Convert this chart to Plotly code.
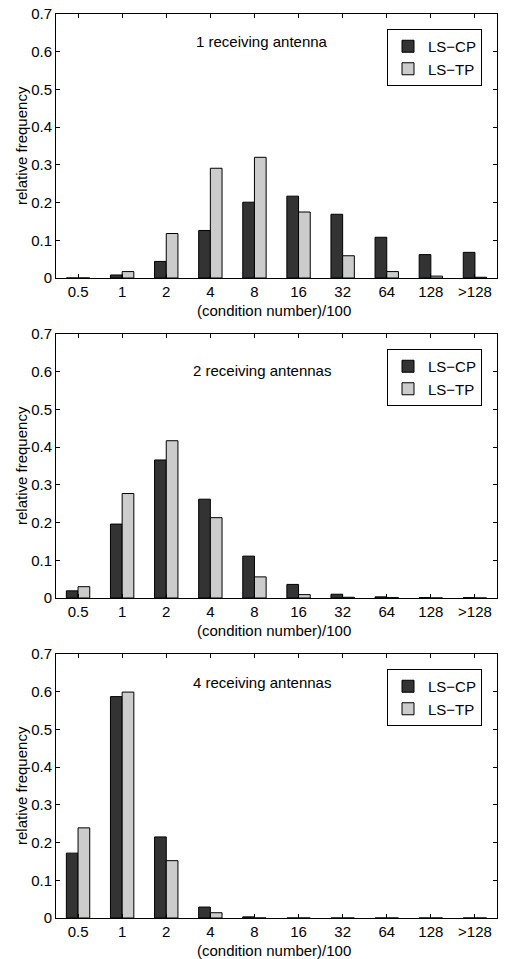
import plotly.graph_objects as go

categories = ["0.5", "1", "2", "4", "8", "16", "32", "64", "128", ">128"]

ant1_cp = [0.000, 0.008, 0.044, 0.126, 0.201, 0.217, 0.169, 0.108, 0.062, 0.068]
ant1_tp = [0.000, 0.017, 0.118, 0.291, 0.320, 0.175, 0.059, 0.017, 0.005, 0.002]

ant2_cp = [0.019, 0.196, 0.366, 0.262, 0.111, 0.036, 0.010, 0.003, 0.001, 0.001]
ant2_tp = [0.030, 0.277, 0.417, 0.213, 0.056, 0.009, 0.002, 0.001, 0.000, 0.000]

ant4_cp = [0.172, 0.587, 0.215, 0.029, 0.003, 0.000, 0.000, 0.000, 0.000, 0.000]
ant4_tp = [0.239, 0.599, 0.152, 0.014, 0.000, 0.000, 0.000, 0.000, 0.000, 0.000]

panel_titles = ["1 receiving antenna", "2 receiving antennas", "4 receiving antennas"]
series_names = ["LS\u2212CP", "LS\u2212TP"]
y_ticks = [0, 0.1, 0.2, 0.3, 0.4, 0.5, 0.6, 0.7]
y_ticktext = ["0", "0.1", "0.2", "0.3", "0.4", "0.5", "0.6", "0.7"]

W, H = 505, 959
FONT = "Liberation Sans, Arial, Helvetica, sans-serif"
FS = 15
DARK = "#333333"
LIGHT = "#cccccc"

# panel pixel boxes (top, bottom)
panels_px = [(14, 278), (334, 598), (654, 918)]
x_left, x_right = 56, 497

fig = go.Figure()
data = [(ant1_cp, ant1_tp), (ant2_cp, ant2_tp), (ant4_cp, ant4_tp)]

layout = dict(
    template="none",
    width=W, height=H,
    margin=dict(l=0, r=0, t=0, b=0, autoexpand=False),
    paper_bgcolor="white", plot_bgcolor="white",
    font=dict(family=FONT, size=FS, color="black"),
    barmode="group", bargap=0.47, bargroupgap=0.0,
    annotations=[],
)

for i, ((cp, tp), (top, bot)) in enumerate(zip(data, panels_px)):
    n = "" if i == 0 else str(i + 1)
    xa, ya = "x" + n, "y" + n
    leg = "legend" + n
    fig.add_trace(go.Bar(x=categories, y=cp, name=series_names[0], xaxis=xa, yaxis=ya,
                         marker=dict(color=DARK, line=dict(color="black", width=1)),
                         legend=leg))
    fig.add_trace(go.Bar(x=categories, y=tp, name=series_names[1], xaxis=xa, yaxis=ya,
                         marker=dict(color=LIGHT, line=dict(color="black", width=1)),
                         legend=leg))
    dom_y = [1 - bot / H, 1 - top / H]
    layout["xaxis" + n] = dict(
        domain=[x_left / W, x_right / W], anchor=ya, type="category", automargin=False,
        range=[-0.5, 9.5], showline=True, linecolor="black", linewidth=1,
        mirror="ticks", ticks="inside", ticklen=4, tickcolor="black",
        showgrid=False, zeroline=False, tickfont=dict(size=FS, color="black"),
    )
    layout["yaxis" + n] = dict(
        domain=dom_y, anchor=xa, range=[0, 0.7], tickvals=y_ticks, ticktext=y_ticktext,
        automargin=False,
        showline=True, linecolor="black", linewidth=1, mirror="ticks",
        ticks="inside", ticklen=4, tickcolor="black", showgrid=False, zeroline=False,
        tickfont=dict(size=FS, color="black"),
    )
    layout[leg] = dict(
        x=482 / W, xanchor="right", y=1 - (top + 15) / H, yanchor="top",
        bordercolor="black", borderwidth=1, bgcolor="white",
        font=dict(size=FS, family=FONT, color="black"),
        itemwidth=30, tracegroupgap=0,
    )
    ann_y = [41, 370, 682][i]
    layout["annotations"] += [
        dict(text=panel_titles[i], x=262 / W, y=1 - ann_y / H, xref="paper", yref="paper",
             showarrow=False, xanchor="center", yanchor="middle",
             font=dict(size=FS, family=FONT, color="black")),
        dict(text="(condition number)/100", x=274 / W, y=1 - (bot + 32) / H,
             xref="paper", yref="paper", showarrow=False, xanchor="center",
             yanchor="middle", font=dict(size=FS, family=FONT, color="black")),
        dict(text="relative frequency", x=21 / W, y=1 - ((top + bot) / 2) / H,
             xref="paper", yref="paper", showarrow=False, textangle=-90,
             xanchor="center", yanchor="middle",
             font=dict(size=FS, family=FONT, color="black")),
    ]

fig.update_layout(**layout)
fig.write_html(
    "out.html",
    config={"displayModeBar": False},
    post_script="document.body.style.margin='0';document.body.style.padding='0';",
)
